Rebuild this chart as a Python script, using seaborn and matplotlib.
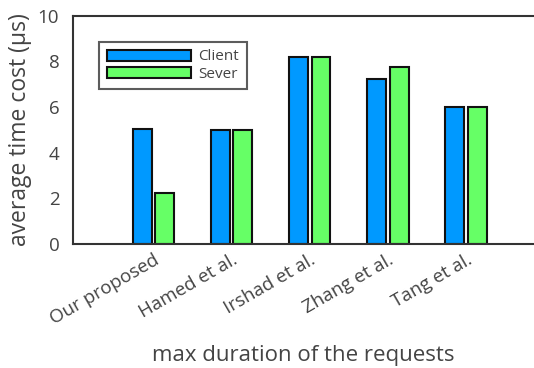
import numpy as np
import pandas as pd
import matplotlib
matplotlib.use('Agg')
import matplotlib.pyplot as plt
import seaborn as sns

methods = ['Our proposed', 'Hamed et al.', 'Irshad et al.', 'Zhang et al.', 'Tang et al.']
client = [5.05, 5.0, 8.2, 7.25, 6.0]
sever = [2.25, 5.0, 8.2, 7.75, 6.0]

df = pd.DataFrame({
    'method': methods * 2,
    'value': client + sever,
    'side': ['Client'] * len(methods) + ['Sever'] * len(methods),
})

sns.set_style('white')
plt.rcParams['font.family'] = ['Open Sans', 'DejaVu Sans']
text_col = '#444444'

fig, ax = plt.subplots(figsize=(5.34, 3.68), dpi=100)
fig.subplots_adjust(left=0.137, right=1.0, top=0.957, bottom=0.337)

sns.barplot(data=df, x='method', y='value', hue='side',
            palette={'Client': '#0099ff', 'Sever': '#66ff66'},
            width=0.572, gap=0.15, edgecolor='#111111', linewidth=1.5,
            saturation=1, ax=ax)

ax.set_xlim(-1.03, 4.87)
ax.set_ylim(0, 10)
ax.set_yticks([0, 2, 4, 6, 8, 10])
ax.tick_params(length=0, labelsize=13.5, colors=text_col)
ax.tick_params(axis='y', pad=10)
ax.tick_params(axis='x', pad=5)
plt.setp(ax.get_xticklabels(), rotation=30, ha='right', rotation_mode='anchor')
ax.set_xlabel('max duration of the requests', fontsize=16, color=text_col, labelpad=12)
ax.set_ylabel('average time cost (µs)', fontsize=16.5, color=text_col, labelpad=4)
ax.spines['right'].set_visible(False)
for s in ax.spines.values():
    s.set_color('#333333')
    s.set_linewidth(1.5)

leg = ax.legend(loc='upper left', bbox_to_anchor=(0.056, 0.886), fontsize=11,
                handlelength=5.5, handleheight=0.75, fancybox=False,
                frameon=True, borderpad=0.5, labelspacing=0.15, handletextpad=0.5,
                borderaxespad=0)
leg.get_frame().set_edgecolor('#333333')
leg.get_frame().set_linewidth(1.5)
for t in leg.get_texts():
    t.set_color(text_col)

fig.savefig('out.png', dpi=100)
